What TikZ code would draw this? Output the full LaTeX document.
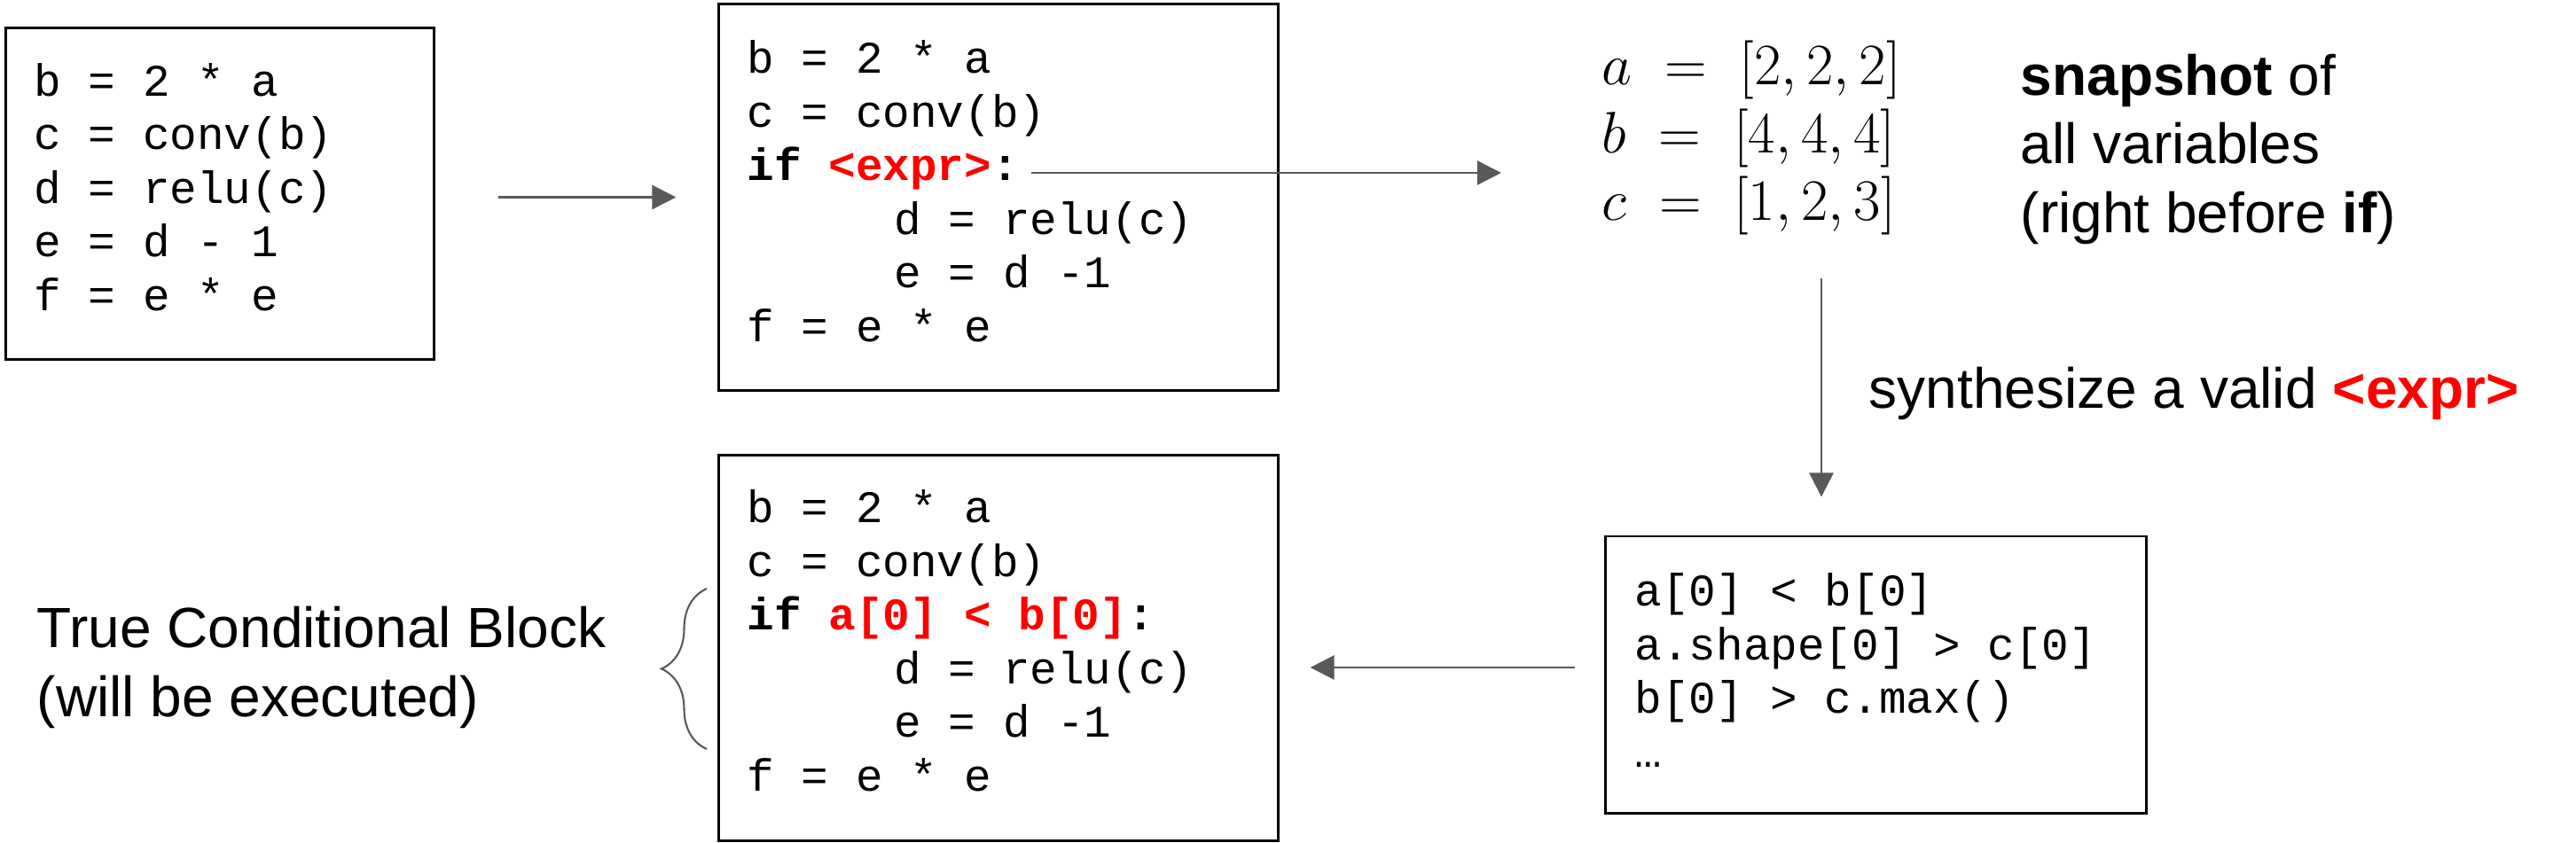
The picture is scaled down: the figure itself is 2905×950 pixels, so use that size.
\RequirePackage{fix-cm}
\documentclass[tikz,border=0pt]{standalone}
\usepackage{fontspec}
\setmainfont{Liberation Sans}
\newfontfamily\codefont{Liberation Mono}
\usepackage{tikz}
\usetikzlibrary{arrows.meta,decorations.pathreplacing}
\definecolor{exprred}{RGB}{255,0,0}
\definecolor{flowgray}{RGB}{89,89,89}

\begin{document}
\begin{tikzpicture}[x=0.01cm,y=0.01cm]
    \tikzset{codebox/.style={draw,line width=0.8pt,inner sep=0pt}}
    \tikzset{code/.style={anchor=base west,inner sep=0pt,align=left,font=\codefont\fontsize{14.5}{17.2}\selectfont}}
    \tikzset{sidetext/.style={anchor=base west,inner sep=0pt,align=left,font=\fontsize{18.2}{21.9}\selectfont}}
    \tikzset{varline/.style={anchor=base west,inner sep=0pt,font=\fontsize{18.8}{22}\selectfont}}
    \tikzset{flow/.style={draw=flowgray,line width=0.75pt,-{Triangle[length=0.27cm,width=0.27cm]}}}
    \useasboundingbox (0,0) rectangle (2905,950);
    \node[codebox,minimum width=4.82cm,minimum height=3.73cm] (box1) at (248,731.5) {};
    \node[code] (code1) at (38,600) {b = 2 * a\\c = conv(b)\\d = relu(c)\\e = d - 1\\f = e * e};
    \node[codebox,minimum width=6.30cm,minimum height=4.35cm] (box2) at (1126,727.5) {};
    \node[code] (code2) at (842,565) {b = 2 * a\\c = conv(b)\\\textbf{if \textcolor{exprred}{<expr>}:}\\\hspace*{1.66cm}d = relu(c)\\\hspace*{1.66cm}e = d -1\\f = e * e};
    \node[codebox,minimum width=6.30cm,minimum height=4.34cm] (box3) at (1126,219) {};
    \node[code] (code3) at (842,58) {b = 2 * a\\c = conv(b)\\\textbf{if \textcolor{exprred}{a[0] < b[0]}:}\\\hspace*{1.66cm}d = relu(c)\\\hspace*{1.66cm}e = d -1\\f = e * e};
    \node[codebox,minimum width=6.09cm,minimum height=3.12cm] (box4) at (2115.5,189) {};
    \node[code] (code4) at (1843,85) {a[0] < b[0]\\a.shape[0] > c[0]\\b[0] > c.max()\\…};
    \node[varline] (vara) at (1806,855) {$a\;=\;[2,2,2]$};
    \node[varline] (varb) at (1806,778) {$b\;=\;[4,4,4]$};
    \node[varline] (varc) at (1806,702) {$c\;=\;[1,2,3]$};
    \node[sidetext] (snap) at (2278,688) {\textbf{snapshot} of\\all variables\\(right before \textbf{if})};
    \node[sidetext] (synth) at (2107,490) {synthesize a valid \textcolor{exprred}{\textbf{<expr>}}};
    \node[sidetext] (truecond) at (41,142) {True Conditional Block\\(will be executed)};
    \coordinate (ifend) at (1163,755);
    \coordinate (synthtop) at (2054,636);
    \coordinate (bracebot) at (797,105);
    \coordinate (bracetop) at (797,286);
    \draw[flow,shorten <=0.71cm,shorten >=0.47cm] (box1.east |- box2.west) -- (box2.west);
    \draw[flow,shorten >=1.13cm] (ifend) -- (ifend -| varb.west);
    \draw[flow,shorten >=0.43cm] (synthtop) -- (synthtop |- box4.north);
    \draw[flow,shorten <=0.33cm,shorten >=0.35cm] ([yshift=0.08cm]box4.west) -- ([yshift=0.08cm]box4.west -| box3.east);
    \draw[draw=flowgray,line width=0.6pt,decorate,decoration={brace,amplitude=0.51cm}] (bracebot) -- (bracetop);
\end{tikzpicture}
\end{document}
